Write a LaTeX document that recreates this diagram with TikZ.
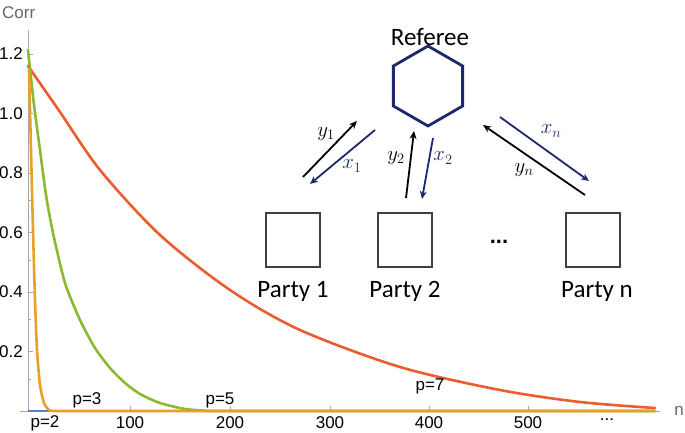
\documentclass[tikz,border=0pt]{standalone}
\usepackage{fontspec}
\setmainfont{Liberation Sans}
\newfontfamily\partyfont{Carlito}
\usetikzlibrary{shapes.geometric,arrows.meta}
\definecolor{navy}{RGB}{30,40,110}
\definecolor{cred}{RGB}{236,92,48}
\definecolor{cgreen}{RGB}{140,185,50}
\definecolor{corange}{RGB}{232,160,40}
\definecolor{cblue}{RGB}{90,130,190}
\tikzset{
  ax/.style={gray!70,line width=0.6pt},
  tl/.style={font=\fontsize{17}{17}\selectfont},
  crv/.style={line width=2.6pt,line cap=round,line join=round},
  box/.style={draw=black!75,line width=2.8pt,minimum size=54pt,inner sep=0},
  plab/.style={font=\partyfont\fontsize{25}{25}\selectfont},
  arr/.style={line width=1.8pt,-{Stealth[length=8pt,width=7pt]}},
  ml/.style={font=\fontsize{20}{20}\selectfont},
}
\begin{document}
\begin{tikzpicture}[x=1pt,y=-1pt]
\useasboundingbox (0,0) rectangle (685,433);
% axes
\draw[ax] (20,411) -- (660,411);
\draw[ax] (28,30) -- (28,411);
\foreach \v/\l in {351.5/0.2,292/0.4,232.5/0.6,173/0.8,113.5/1.0,54/1.2}{
  \draw[ax] (28,\v) -- (33,\v);
  \node[tl,anchor=east,inner sep=1pt] (yl\l) at (24,\v) {\l};}
\foreach \v in {81.75,141.25,200.75,260.25,319.75,379.25}{\draw[ax] (28,\v) -- (31,\v);}
\foreach \x/\l in {130/100,230/200,330/300,429/400,528/500}{
  \draw[ax] (\x,411) -- (\x,406);
  \node[tl] (xl\l) at (\x,423) {\l};}
\node[tl,anchor=west,text=gray!80!black,inner sep=0] (corr) at (2,13) {Corr};
\node[tl,text=gray!80!black] (nlab) at (679,411) {n};
% curves
\draw[crv,cred] plot[smooth,tension=0.5] coordinates {(28,66) (60,112) (100,170) (160,235) (230,290) (300,330) (400,367) (500,390) (580,402) (655,408)};
\draw[line width=2.4pt,cblue] (28,411) -- (50,411);
\draw[crv,cgreen] plot[smooth,tension=0.4] coordinates {(28,50) (34,105) (40,150) (46,195) (53,233) (65,283) (80,320) (95,348) (110,368) (125,383) (140,394) (160,403) (185,409) (210,411)} -- (655,411);
\draw[crv,corange] plot[smooth,tension=0.4] coordinates {(29,70) (31,150) (33,230) (35,300) (37,350) (40,385) (44,403) (49,410) (55,411)} -- (655,411);
\node[tl] (p2) at (45,423) {p=2};
\node[tl] (p3) at (87,400) {p=3};
\node[tl] (p5) at (220,400) {p=5};
\node[tl] (p7) at (430,386) {p=7};
\node[tl] (dots2) at (607,420) {...};
% protocol
\node[draw=navy,line width=2.8pt,regular polygon,regular polygon sides=6,shape border rotate=30,minimum size=80pt,inner sep=0] (ref) at (428,86) {};
\node[plab] (reft) at (430,37) {Referee};
\node[box] (b1) at (293,240) {};
\node[box] (b2) at (405,240) {};
\node[box] (bn) at (593,240) {};
\node[plab] at (293,291) {Party 1};
\node[plab] at (405,291) {Party 2};
\node[plab] at (597,291) {Party n};
\node[font=\fontsize{22}{22}\selectfont\bfseries] (dd) at (499,242) {...};
\coordinate (a1s) at (303,177); \coordinate (a1e) at (357,121);
\coordinate (c1s) at (375,130); \coordinate (c1e) at (310,184);
\draw[arr,black] (a1s) -- (a1e); \draw[arr,navy] (c1s) -- (c1e);
\node[ml] at (326,134) {$y_1$};
\node[ml,text=navy] at (352,166) {$x_1$};
\coordinate (a2s) at (406,198); \coordinate (a2e) at (414,131);
\coordinate (c2s) at (433,138); \coordinate (c2e) at (422,199);
\draw[arr,black] (a2s) -- (a2e); \draw[arr,navy] (c2s) -- (c2e);
\node[ml] at (396,158) {$y_2$};
\node[ml,text=navy] at (443,158) {$x_2$};
\coordinate (cns) at (500,117); \coordinate (cne) at (589,181);
\coordinate (ans) at (585,195); \coordinate (ane) at (483,125);
\draw[arr,navy] (cns) -- (cne); \draw[arr,black] (ans) -- (ane);
\node[ml,text=navy] at (551,131) {$x_n$};
\node[ml] at (524,170) {$y_n$};
\end{tikzpicture}
\end{document}
